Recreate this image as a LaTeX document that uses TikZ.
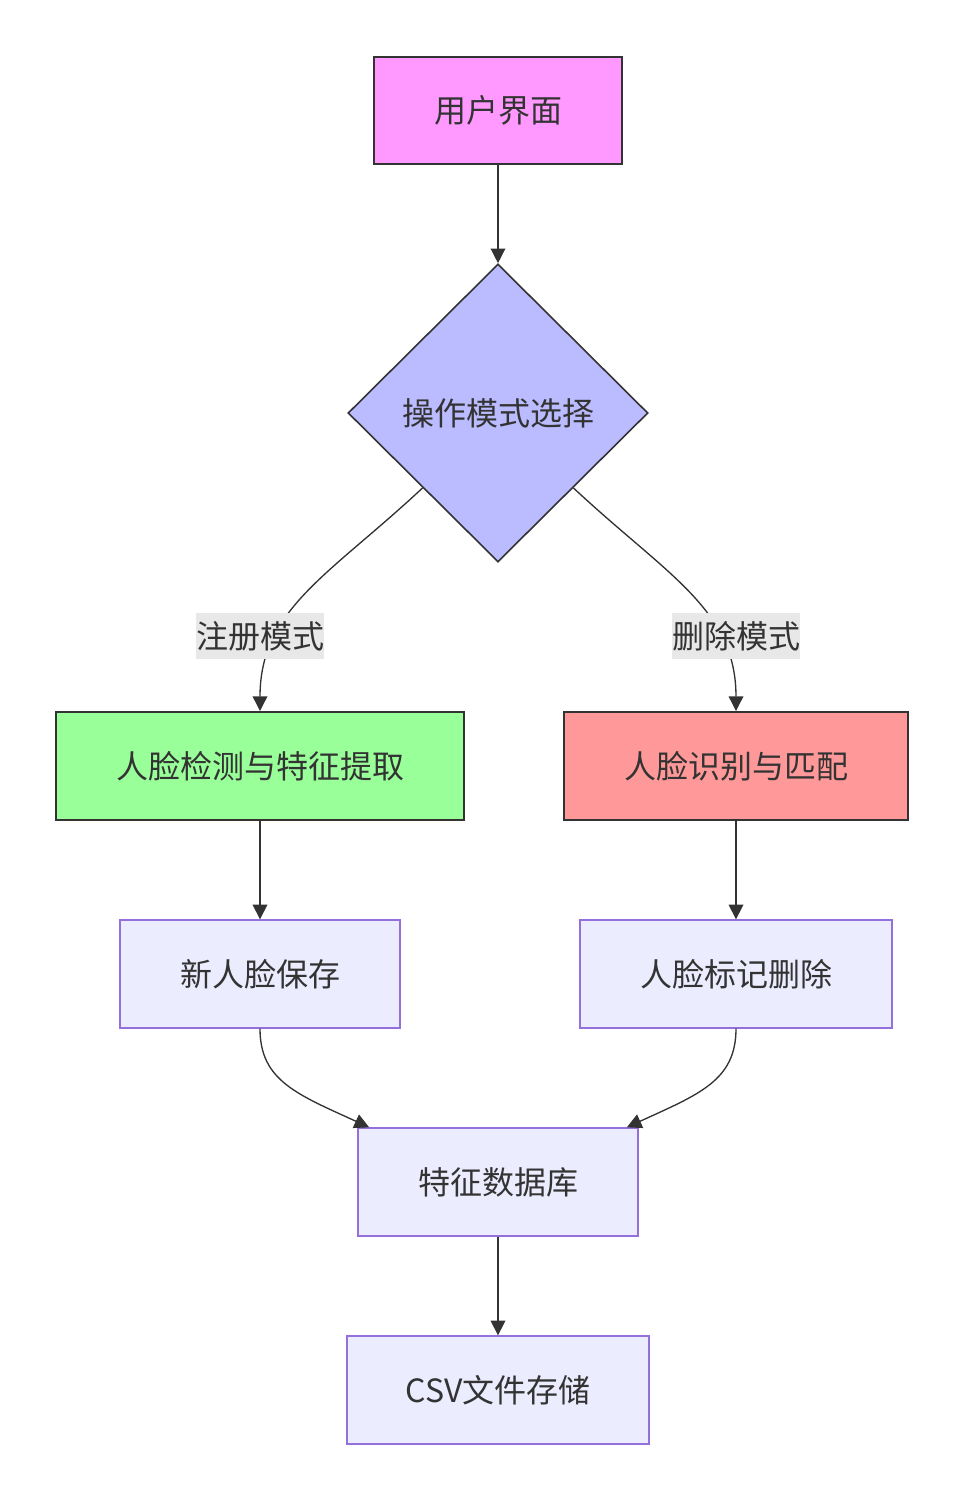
\documentclass[tikz,border=0pt]{standalone}
\usepackage{fontspec}
\setmainfont{Noto Sans CJK SC}
\usetikzlibrary{shapes.geometric, arrows.meta}

\definecolor{txt}{HTML}{333333}
\definecolor{pinkfill}{HTML}{FF99FF}
\definecolor{bluefill}{HTML}{BBBBFF}
\definecolor{greenfill}{HTML}{99FF99}
\definecolor{redfill}{HTML}{FF9999}
\definecolor{plainfill}{HTML}{ECECFF}
\definecolor{plainline}{HTML}{9370DB}
\definecolor{lblfill}{HTML}{E8E8E8}

\tikzset{
  box/.style={rectangle, draw=txt, line width=1.5pt, text=txt, minimum height=81pt, inner sep=0pt},
  plainbox/.style={box, draw=plainline, fill=plainfill, line width=1pt},
  choice/.style={diamond, draw=txt, fill=bluefill, line width=1.2pt, text=txt,
    minimum width=225pt, minimum height=223.5pt, inner sep=0pt},
  lbl/.style={fill=lblfill, text=txt, minimum width=96pt, minimum height=35pt, inner sep=0pt},
  link/.style={draw=txt, line width=1pt, -{Triangle[length=11pt,width=11pt]}}
}

\begin{document}
\begin{tikzpicture}[x=0.75pt, y=-0.75pt, font=\fontsize{24pt}{28pt}\selectfont]
\useasboundingbox (0,0) rectangle (964,1500);

\node[box, fill=pinkfill, minimum width=186pt, minimum height=80.25pt] (ui) at (498,110) {用户界面};
\node[choice] (mode) at (498,413) {操作模式选择};
\node[box, fill=greenfill, minimum width=306pt] (detect) at (260,766) {人脸检测与特征提取};
\node[box, fill=redfill, minimum width=258pt] (match) at (736,766) {人脸识别与匹配};
\node[plainbox, minimum width=210pt] (save) at (260,974) {新人脸保存};
\node[plainbox, minimum width=234pt] (mark) at (736,974) {人脸标记删除};
\node[plainbox, minimum width=210pt] (db) at (498,1182) {特征数据库};
\node[plainbox, minimum width=226.5pt] (csv) at (498,1390) {CSV文件存储};

\draw[link] (ui) -- (mode);
\draw[link] (mode.south west) .. controls +(-93,87) and +(0,-102) .. (detect.north);
\draw[link] (mode.south east) .. controls +(93,87) and +(0,-102) .. (match.north);
\draw[link] (detect) -- (save);
\draw[link] (match) -- (mark);
\draw[link] (save.south) .. controls +(0,52) and +(-72,-33) .. (db.157);
\draw[link] (mark.south) .. controls +(0,52) and +(72,-33) .. (db.23);
\draw[link] (db) -- (csv);

\node[lbl] (regmode) at (260,636) {注册模式};
\node[lbl] (delmode) at (736,636) {删除模式};
\end{tikzpicture}
\end{document}
